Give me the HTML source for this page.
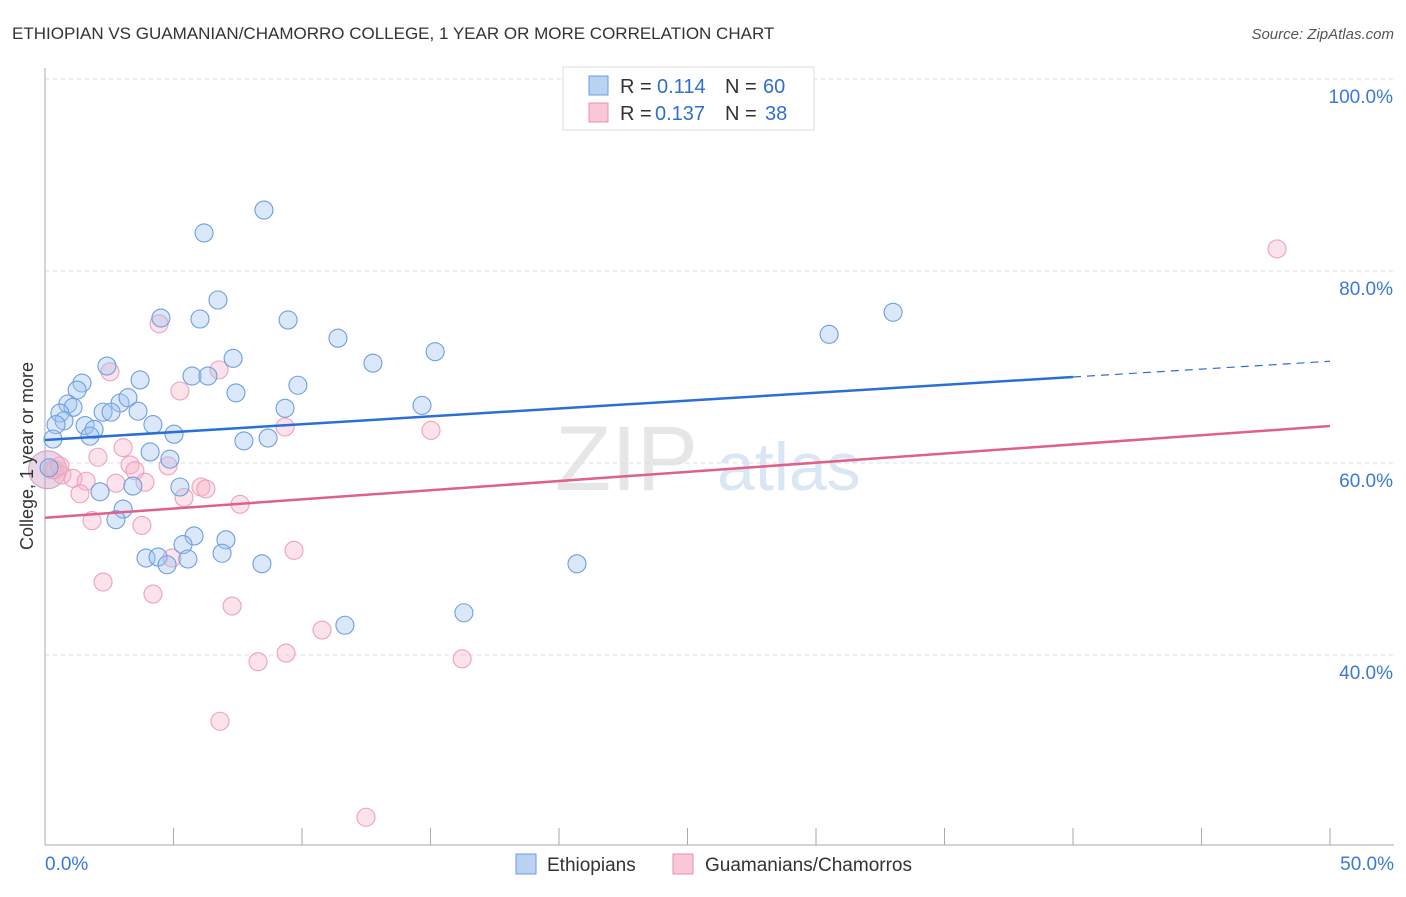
<!DOCTYPE html>
<html><head><meta charset="utf-8"><style>
body{margin:0;background:#fff;font-family:"Liberation Sans",sans-serif}
svg text{font-family:"Liberation Sans",sans-serif}
</style></head><body>
<svg id="chart" width="1406" height="892">
<text x="12" y="39" font-size="17" fill="#333">ETHIOPIAN VS GUAMANIAN/CHAMORRO COLLEGE, 1 YEAR OR MORE CORRELATION CHART</text>
<text x="1394" y="39" font-size="15" fill="#555" font-style="italic" text-anchor="end">Source: ZipAtlas.com</text>
<text x="555" y="490" font-size="92" fill="#e6e6e6" font-family="Liberation Serif">ZIP</text>
<text x="717" y="490" font-size="68" fill="#dae6f4">atlas</text>
<g id="grid"></g><g id="axes"></g><g id="marks"></g>
<text transform="translate(33,456) rotate(-90)" font-size="18" fill="#333" text-anchor="middle">College, 1 year or more</text>
<g>
<rect x="563" y="67" width="251" height="63" fill="#fff" stroke="#ddd"/>
<rect x="589" y="76" width="19" height="19" fill="#b9d3f3" stroke="#6a9ee0"/>
<rect x="589" y="103" width="19" height="19" fill="#f8c8d6" stroke="#e890ab"/>
<text x="620" y="93" font-size="20" fill="#333">R =</text><text x="657" y="93" font-size="20" fill="#2f6fd0">0.114</text>
<text x="725" y="93" font-size="20" fill="#333">N =</text><text x="763" y="93" font-size="20" fill="#2f6fd0">60</text>
<text x="620" y="120" font-size="20" fill="#333">R =</text><text x="655" y="120" font-size="20" fill="#2f6fd0">0.137</text>
<text x="725" y="120" font-size="20" fill="#333">N =</text><text x="765" y="120" font-size="20" fill="#2f6fd0">38</text>
</g>
<g>
<rect x="516" y="854" width="20" height="20" fill="#b9d3f3" stroke="#6a9ee0"/>
<text x="547" y="871" font-size="19" fill="#333">Ethiopians</text>
<rect x="673" y="854" width="20" height="20" fill="#f8c8d6" stroke="#e890ab"/>
<text x="705" y="871" font-size="19" fill="#333">Guamanians/Chamorros</text>
</g>
</svg>
<script>
const yTicks=[100,80,60,40];
const xTickLabels=["0.0%","50.0%"];
const blueX=[8.52,6.19,6.73,4.51,6.03,9.46,11.40,7.32,12.76,15.18,2.41,5.72,6.34,3.70,1.44,9.84,1.25,7.43,2.92,3.23,0.89,1.09,0.58,2.26,2.57,3.62,9.34,14.67,0.74,0.43,1.56,4.20,1.91,5.02,1.75,0.31,7.74,8.68,4.09,4.86,5.25,3.42,2.14,3.04,2.76,5.80,7.04,5.37,6.89,3.93,4.40,5.56,4.75,8.44,20.70,11.67,16.30,30.51,33.0,0.16];
const blueY=[86.35,83.96,76.98,75.1,75.0,74.9,73.0,70.9,70.4,71.6,70.1,69.06,69.06,68.65,68.33,68.1,67.6,67.3,66.25,66.8,66.15,65.8,65.2,65.3,65.3,65.4,65.7,66.0,64.4,64.0,63.9,64.0,63.5,63.0,62.8,62.5,62.3,62.6,61.15,60.4,57.5,57.6,57.0,55.2,54.1,52.4,52.0,51.5,50.6,50.1,50.2,50.0,49.4,49.5,49.5,43.1,44.4,73.4,75.7,59.5];
const pinkX=[47.94,4.44,6.77,5.25,2.53,3.04,2.06,3.31,3.50,4.79,0.39,0.66,1.09,1.60,2.76,3.89,6.07,6.26,1.36,5.41,7.59,1.83,3.77,9.69,4.94,2.26,4.20,7.28,10.78,8.29,9.38,16.23,6.81,12.49,9.34,15.02,0.27,0.58];
const pinkY=[82.3,74.5,69.7,67.5,69.5,61.6,60.6,59.8,59.2,59.7,59.3,58.75,58.4,58.1,57.9,58.0,57.5,57.3,56.8,56.4,55.7,54.0,53.5,50.9,50.1,47.6,46.35,45.1,42.6,39.3,40.2,39.6,33.1,23.1,63.75,63.4,59.3,59.7];
const blueTrend=[62.4,70.6];
const pinkTrend=[54.3,63.85];
const NS="http://www.w3.org/2000/svg";
const X=v=>45+v*25.7;
const Y=v=>79+(100-v)*9.6;
function mk(tag,attrs,parent){const e=document.createElementNS(NS,tag);for(const k in attrs)e.setAttribute(k,attrs[k]);parent.appendChild(e);return e;}
const grid=document.getElementById('grid'),axes=document.getElementById('axes'),marks=document.getElementById('marks');
yTicks.forEach(t=>{
 const l=mk('line',{x1:45,x2:1394,y1:Y(t),y2:Y(t),stroke:'#ddd','stroke-dasharray':'4,4'},grid);
 
 
 const tx=mk('text',{x:1393,y:Y(t)+24,'font-size':19,fill:'#3b78d8','text-anchor':'end'},axes);
 tx.textContent=t.toFixed(1)+'%';
 
 
});
const ax=mk('line',{x1:45,x2:45,y1:68,y2:845,stroke:'#aaa'},axes);


const bx=mk('line',{x1:45,x2:1394,y1:845,y2:845,stroke:'#aaa'},axes);


for(let i=0;i<=10;i++){const v=i*5;const t=mk('line',{x1:X(v),x2:X(v),y1:828,y2:845,stroke:'#aaa'},axes);
 
 }
[[0,'start',45],[50,'end',1394]].forEach((a,i)=>{const t=mk('text',{x:a[2],y:870,'font-size':19,fill:'#3b78d8','text-anchor':a[1]},axes);t.textContent=xTickLabels[i];
 
 });
const big=mk('circle',{cx:X(0.1),cy:Y(59.3),r:19,fill:'rgba(200,150,190,0.4)',stroke:'#d0a0c0'},marks);


function pts(xs,ys,fill,stroke,name){xs.forEach((x,i)=>{const c=mk('circle',{cx:X(x),cy:Y(ys[i]),r:9,fill:fill,stroke:stroke,'stroke-width':1.1},marks);
 
 });}
pts(pinkX,pinkY,'rgba(246,180,200,0.38)','#eca3ba','guamanian-point');
pts(blueX,blueY,'rgba(160,195,240,0.38)','#6c9fe0','ethiopian-point');
function trend(tr,color,name,solidTo){
 const ym=v=>tr[0]+(tr[1]-tr[0])*v/50;
 const l=mk('line',{x1:X(0),y1:Y(ym(0)),x2:X(solidTo),y2:Y(ym(solidTo)),stroke:color,'stroke-width':2.5},marks);
 
 
 if(solidTo<50){const d=mk('line',{x1:X(solidTo),y1:Y(ym(solidTo)),x2:X(50),y2:Y(ym(50)),stroke:color,'stroke-width':1.2,'stroke-dasharray':'8,6'},marks);
 
 }
}
trend(blueTrend,'#2a6fd6','ethiopian-trendline',40);
trend(pinkTrend,'#e0608a','guamanian-trendline',50);
</script>
</body></html>
